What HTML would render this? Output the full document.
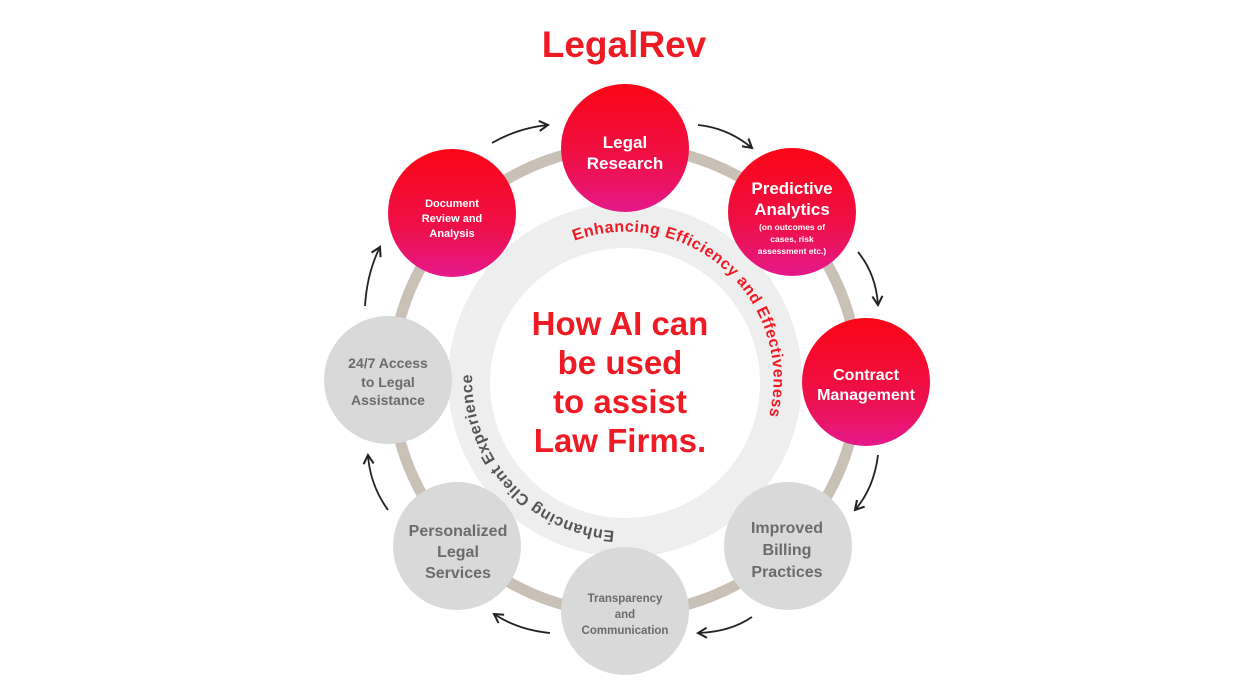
<!DOCTYPE html>
<html><head><meta charset="utf-8"><style>
html,body{margin:0;padding:0;background:#fff;}
svg{display:block;font-family:"Liberation Sans",sans-serif;}
</style></head><body>
<svg width="1246" height="700" viewBox="0 0 1246 700" xmlns="http://www.w3.org/2000/svg">
<defs>
<linearGradient id="rg" x1="0" y1="0" x2="0" y2="1">
<stop offset="0" stop-color="#fb0515"/><stop offset="0.6" stop-color="#ee1048"/><stop offset="1" stop-color="#e5198a"/>
</linearGradient>
<marker id="ah" viewBox="0 0 10 10" refX="8" refY="5" markerWidth="7" markerHeight="7" orient="auto">
<path d="M1,1 L8,5 L1,9" fill="none" stroke="#222" stroke-width="1.6"/>
</marker>
<path id="redArc" d="M 574.4 240.8 A 148 148 0 0 1 764 432" fill="none"/>
<path id="grayArc" d="M 614.5 531 A 152 152 0 0 1 472.5 369" fill="none"/>
</defs>

<text x="624" y="57" text-anchor="middle" font-size="37" font-weight="bold" fill="#ee1b24">LegalRev</text>

<circle cx="625" cy="380" r="233" fill="none" stroke="#c9c0b6" stroke-width="11"/>
<circle cx="625" cy="380" r="177" fill="#eeeeee"/>
<circle cx="625" cy="383" r="135" fill="#ffffff"/>

<text font-size="16" font-weight="bold" fill="#ee1b24" letter-spacing="0.5"><textPath href="#redArc">Enhancing Efficiency and Effectiveness</textPath></text>
<text font-size="16" font-weight="bold" fill="#555" letter-spacing="0.5"><textPath href="#grayArc">Enhancing Client Experience</textPath></text>

<g font-size="33" fill="#ee1b24" text-anchor="middle" font-weight="bold">
<text x="620" y="335">How AI can</text>
<text x="620" y="374">be used</text>
<text x="620" y="413">to assist</text>
<text x="620" y="452">Law Firms.</text>
</g>

<g fill="none" stroke="#222" stroke-width="1.8" marker-end="url(#ah)">
<path d="M492,143 Q518,128 548,125"/>
<path d="M698,125 Q728,128 752,148"/>
<path d="M858,252 Q876,274 878,305"/>
<path d="M878,455 Q874,488 855,510"/>
<path d="M752,617 Q730,632 698,633"/>
<path d="M550,633 Q518,630 494,614"/>
<path d="M388,510 Q370,485 368,455"/>
<path d="M365,306 Q367,273 380,247"/>
</g>

<circle cx="625" cy="148" r="64" fill="url(#rg)"/>
<circle cx="452" cy="213" r="64" fill="url(#rg)"/>
<circle cx="792" cy="212" r="64" fill="url(#rg)"/>
<circle cx="866" cy="382" r="64" fill="url(#rg)"/>
<circle cx="388" cy="380" r="64" fill="#d9d9d9"/>
<circle cx="457" cy="546" r="64" fill="#d9d9d9"/>
<circle cx="625" cy="611" r="64" fill="#d9d9d9"/>
<circle cx="788" cy="546" r="64" fill="#d9d9d9"/>

<g fill="#fff" font-weight="bold" text-anchor="middle">
<text x="625" y="148" font-size="17">Legal</text>
<text x="625" y="169" font-size="17">Research</text>
<text x="452" y="207" font-size="11">Document</text>
<text x="452" y="222" font-size="11">Review and</text>
<text x="452" y="237" font-size="11">Analysis</text>
<text x="792" y="194" font-size="17">Predictive</text>
<text x="792" y="215" font-size="17">Analytics</text>
<text x="792" y="230" font-size="8.5">(on outcomes of</text>
<text x="792" y="242" font-size="8.5">cases, risk</text>
<text x="792" y="254" font-size="8.5">assessment etc.)</text>
<text x="866" y="380" font-size="16">Contract</text>
<text x="866" y="400" font-size="16">Management</text>
</g>
<g fill="#6b6b6b" font-weight="bold" text-anchor="middle">
<text x="388" y="368" font-size="14">24/7 Access</text>
<text x="388" y="387" font-size="14">to Legal</text>
<text x="388" y="405" font-size="14">Assistance</text>
<text x="458" y="536" font-size="16">Personalized</text>
<text x="458" y="557" font-size="16">Legal</text>
<text x="458" y="578" font-size="16">Services</text>
<text x="625" y="602" font-size="11.5">Transparency</text>
<text x="625" y="618" font-size="11.5">and</text>
<text x="625" y="634" font-size="11.5">Communication</text>
<text x="787" y="533" font-size="16">Improved</text>
<text x="787" y="555" font-size="16">Billing</text>
<text x="787" y="577" font-size="16">Practices</text>
</g>
</svg>
</body></html>
